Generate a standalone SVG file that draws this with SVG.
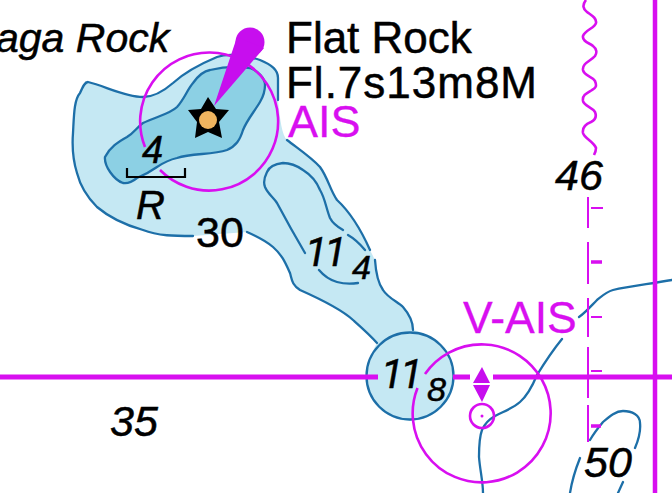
<svg xmlns="http://www.w3.org/2000/svg" width="672" height="493" viewBox="0 0 672 493">
<style>
.lt{fill:#c5e8f3}.dk{fill:#8cd0e4}
.c{fill:none;stroke:#1d6fa8;stroke-width:2.3;stroke-linejoin:round;stroke-linecap:round}
.m{fill:none;stroke:#d80ff0;stroke-width:2.6}
.d{fill:none;stroke:#d80ff0;stroke-width:2}
.mf{fill:#c70eee;stroke:none}
.t{font-family:"Liberation Sans",Arial,sans-serif;fill:#000;stroke:#000;stroke-width:.5}
.p{fill:#d80ff0;stroke:#d80ff0;stroke-width:.3}
.i{font-style:italic}
.r{font-family:Roboto,"Liberation Sans",sans-serif}
</style>
<rect width="672" height="493" fill="#fff"/>
<g id="soundings-area">
<path class="lt" d="M88 82C105 86 125 97 143 97C155 97 165 90 173 83C185 72 205 62 217 57C228 53 245 55 260 60C272 65 278 70 278 78L278 100C280 120 282 135 287 140C300 150 312 158 320 167C328 178 330 190 337 200C350 212 362 232 370 250L375 260C376 275 378 283 383 290C388 298 398 302 403 307C410 315 413 322 413 330C435 335 453 355 453 376C453 401 434 421 410 421C386 421 367 401 367 376C367 362 372 352 377 343C370 335 362 328 353 320C340 308 318 298 300 290C292 285 292 280 290 273C285 262 282 255 273 247C265 240 256 236 247 232L193 236C175 236 158 236 143 230C125 225 110 218 97 207C87 197 80 185 77 173C73 160 72 146 73 133C74 115 74 100 80 93C83 86 85 82 88 82Z"/>
<path class="dk" d="M105 157C110 147 118 142 127 137C135 132 137 127 143 123C155 117 170 114 177 107C185 98 187 90 193 83C198 76 204 71 210 70C222 67 238 66 250 68C258 71 265 78 265 85C265 92 263 97 260 102C254 112 247 120 243 130C240 140 236 146 227 150C212 155 192 153 177 158C168 160 163 163 157 167C150 172 144 175 137 178C132 182 128 184 123 183C114 180 104 166 105 157Z"/>
</g>
<g id="contours">
<path class="c" d="M278 100L278 78C278 70 272 65 260 60C245 55 228 53 217 57C205 62 185 72 173 83C165 90 155 97 143 97C125 97 105 86 88 82C85 82 83 86 80 93C74 100 74 115 73 133C72 146 73 160 77 173C80 185 87 197 97 207C110 218 125 225 143 230C158 236 175 236 193 236"/>
<path class="c" d="M287 140C300 150 312 158 320 167C328 178 330 190 337 200C350 212 362 232 370 250M375 260C376 275 378 283 383 290C388 298 398 302 403 307C410 315 413 322 413 330"/>
<path class="c" d="M247 232C256 236 265 240 273 247C282 255 285 262 290 273C292 280 292 285 300 290C318 298 340 308 353 320C362 328 370 335 377 343"/>
<circle class="c" cx="410" cy="376" r="43.5"/>
<path class="c" d="M105 157C110 147 118 142 127 137C135 132 137 127 143 123C155 117 170 114 177 107C185 98 187 90 193 83C198 76 204 71 210 70C222 67 238 66 250 68C258 71 265 78 265 85C265 92 263 97 260 102C254 112 247 120 243 130C240 140 236 146 227 150C212 155 192 153 177 158C168 160 163 163 157 167C150 172 144 175 137 178C132 182 128 184 123 183C114 180 104 166 105 157Z"/>
<path class="c" d="M343 230C336 226 332 222 330 218C326 208 325 198 320 190C316 180 311 175 303 170C296 165 290 163 283 163C275 164 269 167 267 172C264 178 263 182 265 187C268 194 273 197 277 203C285 218 295 236 305 253M319 270C324 276 330 280 337 282C344 284 352 284 358 283M348 235C355 239 360 244 365 250"/>
<path class="c" d="M672 280C650 284 630 286 613 290C606 292 602 296 597 300C591 306 585 313 579 317M562 339C553 350 545 362 537 375C532 387 527 396 520 402C512 409 502 412 495 416C488 420 484 425 482 430C479 438 479 448 479 457C480 470 483 482 483 493"/>
<path class="c" d="M590 440C594 433 598 428 603 422C610 416 616 411 623 411C632 411 640 415 640 423C641 432 638 441 635 448M623 482L618 493M580 458C576 468 572 480 570 493"/>
</g>
<g id="limits">
<path d="M0 377H378M453 377H470M493 377H672" fill="none" stroke="#d80ff0" stroke-width="5"/>
<path d="M655 0V493" fill="none" stroke="#d80ff0" stroke-width="4.5"/>
<path class="d" d="M588 197V228M588 242V284M588 298V337M588 347V398M588 405V442"/>
<path class="d" d="M591 208H603M591 317H602M591 371H602"/>
<path d="M591 262H602M591 426H601" fill="none" stroke="#d80ff0" stroke-width="3.5"/>
<path class="m" d="M586 0C582 5 583 9 587 12C591 15 597 18 596 23C595 28 585 30 583 36C582 42 590 43 593 46C597 49 597 53 595 56C591 61 582 63 583 70C584 76 592 76 595 81C597 86 596 88 592 90C587 93 582 95 583 101C584 106 592 107 595 112C597 117 595 120 591 122C586 124 582 127 583 133C584 138 594 142 596 148C596 151 595 153 594 155"/>
</g>
<g id="flat-rock">
<path class="m" d="M160 170A69 69 0 1 0 145 147"/>
<circle class="mf" cx="250" cy="42" r="14.5"/>
<path class="mf" d="M237 37L264 48L214 106Z"/>
<path d="M208 97L216 109L229 110L219 122L222 138L208 132L195 138L197 122L188 110L201 109Z" fill="#000"/>
<circle cx="208" cy="120" r="9" fill="#f0b45f"/>
<path d="M127 168V177H185V168" fill="none" stroke="#000" stroke-width="2.2"/>
</g>
<g id="v-ais">
<path class="m" d="M425 374A69 69 0 1 1 417.500 388"/>
<circle class="m" cx="482" cy="416" r="12"/>
<circle cx="482" cy="416" r="1.500" fill="#d80ff0"/>
<path class="mf" d="M482 367L490 383H473ZM473 385H490L482 402Z"/>
</g>
<g id="labels">
<text class="t i" x="-4" y="52" font-size="41">aga Rock</text>
<text class="t" x="286" y="53" font-size="44">Flat Rock</text>
<text class="t" x="286" y="98" font-size="44" textLength="251">Fl.7s13m8M</text>
<text class="t p" x="288" y="137" font-size="45">AIS</text>
<text class="t p" x="463" y="333" font-size="44.5">V-AIS</text>
<text class="t i" x="555" y="190" font-size="43">46</text>
<text class="t i" x="110" y="436" font-size="43">35</text>
<text class="t i" x="584" y="477" font-size="43">50</text>
<text class="t" x="196" y="247" font-size="43">30</text>
<text class="t i" x="142" y="163" font-size="38">4</text>
<text class="t i" x="136" y="219" font-size="40">R</text>
<text class="t i r" x="305" y="266" font-size="41" letter-spacing="-3">11</text>
<text class="t i" x="352" y="279" font-size="34" textLength="19" lengthAdjust="spacingAndGlyphs">4</text>
<text class="t i r" x="381" y="388" font-size="41" letter-spacing="-3">11</text>
<text class="t i" x="427" y="401" font-size="33" textLength="19" lengthAdjust="spacingAndGlyphs">8</text>
</g>
</svg>
